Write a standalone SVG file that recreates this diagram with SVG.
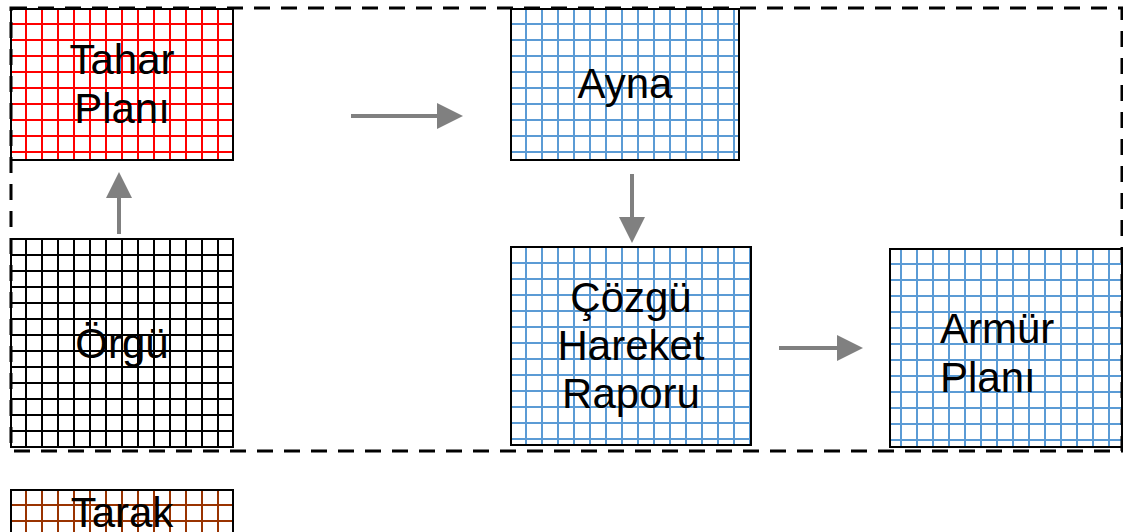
<svg xmlns="http://www.w3.org/2000/svg" width="1123" height="532" viewBox="0 0 1123 532">
<style>
.box{stroke:#000;stroke-width:2}
.lbl{font-family:"Liberation Sans",Arial,sans-serif;font-size:42px;fill:#000}
.c{text-anchor:middle}
.arr{stroke:#808080;stroke-width:4;fill:none;marker-end:url(#ah)}
.frame{fill:none;stroke:#000;stroke-width:3;stroke-dasharray:16 11}
</style>
<defs>
<marker id="ah" markerUnits="userSpaceOnUse" markerWidth="26" markerHeight="26" refX="0" refY="13" orient="auto"><path d="M0 0L26 13L0 26z" fill="#808080"/></marker>
<pattern id="pTahar" patternUnits="userSpaceOnUse" x="18" y="16" width="16" height="16"><path d="M8 0V16M0 8H16" stroke="#ff0000" stroke-width="2"/></pattern>
<pattern id="pAyna" patternUnits="userSpaceOnUse" x="518" y="16" width="16" height="16"><path d="M8 0V16M0 8H16" stroke="#5b9bd5" stroke-width="2"/></pattern>
<pattern id="pOrgu" patternUnits="userSpaceOnUse" x="18" y="247" width="16" height="16"><path d="M8 0V16M0 8H16" stroke="#000" stroke-width="2"/></pattern>
<pattern id="pCozgu" patternUnits="userSpaceOnUse" x="518" y="255" width="16" height="16"><path d="M8 0V16M0 8H16" stroke="#5b9bd5" stroke-width="2"/></pattern>
<pattern id="pArmur" patternUnits="userSpaceOnUse" x="893" y="256" width="16" height="16"><path d="M8 0V16M0 8H16" stroke="#5b9bd5" stroke-width="2"/></pattern>
<pattern id="pTarak" patternUnits="userSpaceOnUse" x="18" y="497" width="16" height="16"><path d="M8 0V16M0 8H16" stroke="#993300" stroke-width="2"/></pattern>
</defs>
<rect width="1123" height="532" fill="#fff"/>
<g id="tahar">
<rect class="box" x="11" y="9" width="222" height="151" fill="url(#pTahar)"/>
<text class="lbl c" x="122" y="74">Tahar</text>
<text class="lbl c" x="122" y="123">Planı</text>
</g>
<g id="ayna">
<rect class="box" x="511" y="9" width="228" height="151" fill="url(#pAyna)"/>
<text class="lbl c" x="625" y="98">Ayna</text>
</g>
<g id="orgu">
<rect class="box" x="11" y="239" width="222" height="208" fill="url(#pOrgu)"/>
<text class="lbl c" x="122" y="358">Örgü</text>
</g>
<g id="cozgu">
<rect class="box" x="511" y="247" width="240" height="198" fill="url(#pCozgu)"/>
<text class="lbl c" x="631" y="312">Çözgü</text>
<text class="lbl c" x="631" y="360">Hareket</text>
<text class="lbl c" x="631" y="408">Raporu</text>
</g>
<g id="armur">
<rect class="box" x="890" y="249" width="232" height="198" fill="url(#pArmur)"/>
<text class="lbl" x="940" y="343">Armür</text>
<text class="lbl" x="940" y="392">Planı</text>
</g>
<g id="tarak">
<rect class="box" x="11" y="490" width="222" height="50" fill="url(#pTarak)"/>
<text class="lbl c" x="122" y="527">Tarak</text>
</g>
<g id="connectors">
<line class="arr" x1="351" y1="116" x2="437" y2="116"/>
<line class="arr" x1="632" y1="174" x2="632" y2="217"/>
<line class="arr" x1="119" y1="234" x2="119" y2="198"/>
<line class="arr" x1="779" y1="348" x2="837" y2="348"/>
</g>
<g id="frame">
<rect class="frame" x="11" y="8" width="1111" height="443"/>
</g>
</svg>
